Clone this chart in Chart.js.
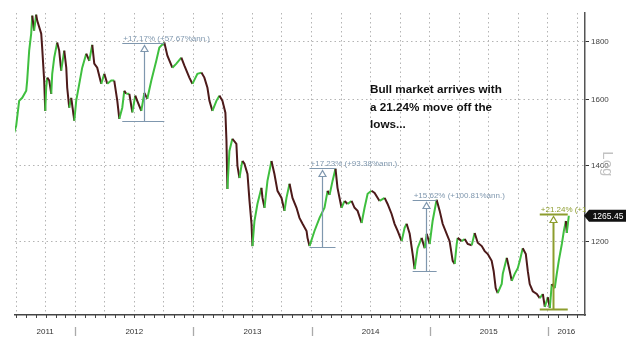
<!DOCTYPE html>
<html>
<head>
<meta charset="utf-8">
<script src="https://cdn.jsdelivr.net/npm/chart.js@4.4.1/dist/chart.umd.min.js"></script>
<style>
html,body{margin:0;padding:0;background:#fff;}
#wrap{width:630px;height:352px;}
</style>
</head>
<body>
<div id="wrap"><canvas id="c" width="630" height="352"></canvas></div>
<script>
// ---- data (time in fractional years, gold price) ----
const dates = [2011.483,2011.500,2011.525,2011.551,2011.585,2011.593,2011.610,2011.627,2011.636,2011.652,
2011.669,2011.678,2011.712,2011.720,2011.737,2011.746,2011.754,2011.763,2011.780,2011.797,
2011.805,2011.822,2011.847,2011.864,2011.881,2011.890,2011.907,2011.924,2011.932,2011.949,
2011.966,2011.992,2012.008,2012.034,2012.059,2012.093,2012.119,2012.144,2012.161,2012.186,
2012.220,2012.246,2012.271,2012.305,2012.330,2012.356,2012.373,2012.398,2012.415,2012.432,
2012.458,2012.483,2012.508,2012.525,2012.559,2012.585,2012.610,2012.644,2012.686,2012.712,
2012.754,2012.780,2012.822,2012.856,2012.898,2012.924,2012.966,2012.992,2013.034,2013.068,
2013.093,2013.119,2013.136,2013.161,2013.195,2013.220,2013.246,2013.271,2013.280,2013.288,
2013.305,2013.330,2013.364,2013.373,2013.390,2013.407,2013.415,2013.432,2013.458,2013.475,
2013.492,2013.500,2013.517,2013.542,2013.576,2013.585,2013.602,2013.627,2013.661,2013.686,
2013.712,2013.746,2013.771,2013.788,2013.814,2013.839,2013.873,2013.898,2013.924,2013.958,
2013.966,2013.983,2014.025,2014.068,2014.110,2014.136,2014.153,2014.178,2014.203,2014.220,
2014.254,2014.280,2014.305,2014.339,2014.364,2014.390,2014.424,2014.449,2014.475,2014.508,
2014.534,2014.576,2014.619,2014.644,2014.678,2014.703,2014.729,2014.763,2014.788,2014.805,
2014.831,2014.856,2014.873,2014.898,2014.932,2014.958,2014.975,2015.000,2015.025,2015.059,
2015.085,2015.110,2015.144,2015.169,2015.195,2015.212,2015.229,2015.237,2015.271,2015.297,
2015.322,2015.356,2015.381,2015.407,2015.441,2015.466,2015.492,2015.525,2015.542,2015.559,
2015.576,2015.610,2015.619,2015.653,2015.678,2015.695,2015.720,2015.746,2015.763,2015.788,
2015.814,2015.831,2015.847,2015.873,2015.907,2015.932,2015.958,2015.975,2016.000,2016.017,
2016.034,2016.059,2016.076,2016.093,2016.119,2016.136,2016.153,2016.161,2016.178];

const price = [1497,1518,1597,1607,1630,1664,1768,1830,1898,1841,
1902,1879,1830,1779,1664,1565,1640,1674,1664,1620,
1687,1743,1797,1768,1698,1722,1768,1708,1640,1575,
1607,1534,1597,1653,1708,1757,1732,1789,1722,1708,
1653,1687,1653,1664,1664,1597,1540,1575,1630,1620,
1620,1560,1614,1597,1565,1623,1604,1664,1732,1779,
1797,1750,1708,1722,1743,1715,1674,1653,1687,1691,
1674,1640,1597,1565,1597,1614,1597,1559,1473,1336,
1443,1479,1464,1400,1366,1400,1414,1406,1377,1304,
1245,1190,1252,1296,1339,1312,1286,1358,1414,1377,
1331,1312,1278,1312,1350,1312,1286,1260,1245,1227,
1210,1190,1227,1260,1286,1331,1320,1358,1392,1339,
1286,1304,1296,1304,1286,1278,1247,1286,1323,1331,
1325,1304,1312,1296,1270,1245,1227,1202,1235,1245,
1220,1171,1136,1185,1210,1185,1220,1195,1252,1307,
1278,1245,1220,1202,1155,1148,1195,1210,1202,1207,
1195,1192,1222,1198,1190,1178,1171,1155,1131,1093,
1082,1102,1125,1162,1131,1109,1125,1138,1155,1185,
1171,1131,1102,1086,1080,1071,1080,1052,1073,1050,
1102,1093,1125,1155,1195,1227,1252,1222,1265.45];

const yTicks = [1200, 1400, 1600, 1800];
const yearLabels = ['2011','2012','2013','2014','2015','2016'];

// measurement annotations
const measureStart = [2012.398, 2013.983, 2014.856, 2015.932];
const measureEnd   = [2012.754, 2014.203, 2015.059, 2016.169];
const measureMid   = [2012.585, 2014.089, 2014.966, 2016.042];
const measureLow   = [1533, 1188, 1131, 1048];
const measureGain  = [17.17, 17.23, 15.62, 21.24];
const measureText  = ['+17.17% (+57.67%ann.)', '+17.23% (+93.38%ann.)', '+15.62% (+100.81%ann.)', '+21.24% (+1'];
const measureColor = ['#7f97ae', '#7f97ae', '#7f97ae', '#8d9d2e'];

const noteLines = ['Bull market arrives with', 'a 21.24% move off the', 'lows...'];

const X_MIN = 2011.49, X_MAX = 2016.315;

const GREEN = '#3fbf3f', DARK = '#4d1a1a';

const overlay = {
  id: 'overlay',
  afterDraw(chart) {
    const ctx = chart.ctx, xs = chart.scales.x, ys = chart.scales.y, ca = chart.chartArea;
    ctx.save();
    // monthly tick marks on bottom axis
    ctx.strokeStyle = '#444'; ctx.lineWidth = 1;
    for (let m = Math.ceil(X_MIN * 12); m <= X_MAX * 12; m++) {
      const px = Math.round(xs.getPixelForValue(m / 12)) + 0.5;
      ctx.beginPath(); ctx.moveTo(px, ca.bottom - 1); ctx.lineTo(px, ca.bottom + 3); ctx.stroke();
    }
    // year separators and labels
    ctx.strokeStyle = '#aaa'; ctx.lineWidth = 1.3;
    ctx.fillStyle = '#333'; ctx.font = '8px "Liberation Sans", Arial, sans-serif';
    ctx.textAlign = 'center'; ctx.textBaseline = 'middle';
    yearLabels.forEach(lbl => {
      const yr = +lbl;
      if (yr > X_MIN && yr < X_MAX) {
        const px = Math.round(xs.getPixelForValue(yr)) + 0.5;
        ctx.beginPath(); ctx.moveTo(px, ca.bottom + 12); ctx.lineTo(px, ca.bottom + 21); ctx.stroke();
      }
      const a = Math.max(yr, X_MIN), b = Math.min(yr + 1, X_MAX);
      ctx.fillText(lbl, xs.getPixelForValue((a + b) / 2), ca.bottom + 17);
    });

    // measurement tools
    ctx.save();
    ctx.beginPath(); ctx.rect(ca.left, 0, ca.right - ca.left + 1, chart.height); ctx.clip();
    measureStart.forEach((s, i) => {
      const x0 = xs.getPixelForValue(s), x1 = xs.getPixelForValue(measureEnd[i]);
      const xm = Math.round(xs.getPixelForValue(measureMid[i])) + 0.5;
      const low = measureLow[i], high = low * (1 + measureGain[i] / 100);
      const yl = Math.round(ys.getPixelForValue(low)) + 0.5, yh = Math.round(ys.getPixelForValue(high)) + 0.5;
      const col = measureColor[i];
      const lw = i === 3 ? 2 : 1.2;
      ctx.strokeStyle = col; ctx.lineWidth = lw;
      ctx.beginPath();
      ctx.moveTo(x0, yh); ctx.lineTo(x1, yh);
      ctx.moveTo(x0, yl); ctx.lineTo(x1, yl);
      ctx.moveTo(xm, yl); ctx.lineTo(xm, yh + 8);
      ctx.stroke();
      ctx.fillStyle = '#fff'; ctx.lineWidth = 1.2;
      ctx.beginPath();
      ctx.moveTo(xm, yh + 2); ctx.lineTo(xm - 3.5, yh + 8); ctx.lineTo(xm + 3.5, yh + 8); ctx.closePath();
      ctx.fill(); ctx.stroke();
      ctx.fillStyle = col; ctx.font = '8px "Liberation Sans", Arial, sans-serif';
      ctx.textAlign = 'left'; ctx.textBaseline = 'alphabetic';
      ctx.fillText(measureText[i], x0 + 1, yh - 2.5);
    });
    ctx.restore();

    // note text
    ctx.fillStyle = '#111'; ctx.font = 'bold 11.7px "Liberation Sans", Arial, sans-serif';
    ctx.textAlign = 'left'; ctx.textBaseline = 'middle';
    noteLines.forEach((t, i) => ctx.fillText(t, ca.left + 355, ca.top + 77 + i * 17.5));

    // last price label
    const last = price[price.length - 1];
    const py = ys.getPixelForValue(last);
    const bx = ca.right + 3;
    ctx.fillStyle = '#111';
    ctx.beginPath();
    ctx.moveTo(ca.right - 1, py); ctx.lineTo(bx + 1, py - 6); ctx.lineTo(bx + 38, py - 6);
    ctx.lineTo(bx + 38, py + 6); ctx.lineTo(bx + 1, py + 6); ctx.closePath(); ctx.fill();
    ctx.fillStyle = '#fff'; ctx.font = '8.5px "Liberation Sans", Arial, sans-serif';
    ctx.textAlign = 'center'; ctx.textBaseline = 'middle';
    ctx.fillText(last.toFixed(2), bx + 20, py + 0.5);

    // Log label
    ctx.save();
    ctx.translate(ca.right + 22, ys.getPixelForValue(1400) - 2);
    ctx.rotate(Math.PI / 2);
    ctx.fillStyle = '#c2c2c2'; ctx.font = '15px "Liberation Sans", Arial, sans-serif';
    ctx.textAlign = 'center'; ctx.textBaseline = 'middle';
    ctx.fillText('Log', 0, 0);
    ctx.restore();

    ctx.restore();
  }
};

new Chart(document.getElementById('c'), {
  type: 'line',
  data: {
    datasets: [{
      data: dates.map((t, i) => ({ x: t, y: price[i] })),
      borderWidth: 2,
      pointRadius: 0,
      tension: 0,
      borderColor: GREEN,
      segment: {
        borderColor: c => (c.p1.parsed.y >= c.p0.parsed.y ? GREEN : DARK)
      }
    }]
  },
  options: {
    responsive: false,
    animation: false,
    layout: { padding: { left: 15, top: 13, right: 0, bottom: 0 } },
    plugins: { legend: { display: false }, tooltip: { enabled: false } },
    scales: {
      x: {
        type: 'linear', min: X_MIN, max: X_MAX,
        afterBuildTicks: s => {
          const t = [];
          for (let q = Math.ceil(X_MIN * 4); q <= X_MAX * 4; q++) t.push({ value: q / 4 });
          s.ticks = t;
        },
        ticks: { display: false },
        grid: { color: '#b4b4b4', lineWidth: 1, drawTicks: false },
        border: { display: true, color: '#444', width: 1.5, dash: [1.5, 3] },
        afterFit: s => { s.height = 37; }
      },
      y: {
        type: 'logarithmic', position: 'right', min: 1035, max: 1908,
        afterBuildTicks: s => { s.ticks = yTicks.map(v => ({ value: v })); },
        ticks: {
          callback: v => String(v),
          font: { family: '"Liberation Sans", Arial, sans-serif', size: 8 },
          color: '#444', padding: 2
        },
        grid: { color: '#b4b4b4', lineWidth: 1, tickLength: 4, tickColor: '#333', tickBorderDash: [] },
        border: { display: true, color: '#555', width: 1.5, dash: [1.5, 3] },
        afterFit: s => { s.width = 45; }
      }
    }
  },
  plugins: [overlay]
});
</script>
</body>
</html>
